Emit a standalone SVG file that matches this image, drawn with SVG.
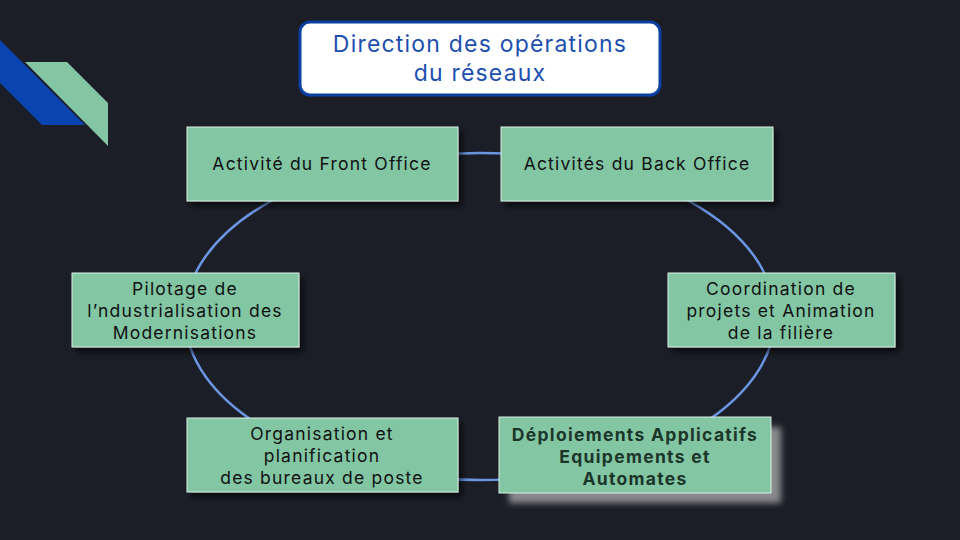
<svg xmlns="http://www.w3.org/2000/svg" width="960" height="540" viewBox="0 0 960 540">
<defs>
<style>
.node rect.box{fill:#82c6a4;stroke:#dcefe4;stroke-width:1}
.node text{font-family:Inter,"Noto Sans",sans-serif;font-size:17.5px;letter-spacing:1.2px;fill:#111;text-anchor:middle}
.node text.bold{font-weight:bold;fill:#1c3529;letter-spacing:1.3px}
.title text{font-family:Inter,"Noto Sans",sans-serif;font-size:23px;letter-spacing:1.2px;fill:#1c4fb0;text-anchor:middle}
</style>
<filter id="sh" x="-20%" y="-30%" width="140%" height="160%">
<feGaussianBlur in="SourceAlpha" stdDeviation="3"/>
<feOffset dx="4" dy="5" result="b"/>
<feComponentTransfer><feFuncA type="linear" slope="0.6"/></feComponentTransfer>
<feMerge><feMergeNode/><feMergeNode in="SourceGraphic"/></feMerge>
</filter>
<filter id="gblur" x="-20%" y="-30%" width="140%" height="160%">
<feGaussianBlur stdDeviation="3"/>
</filter>
</defs>
<rect width="960" height="540" fill="#1b1e27"/>
<g id="decor">
<polygon points="0,40 85,125 42,125 0,83" fill="#0a44b0"/>
<polygon points="25,62 67,62 108,103 108,146" fill="#84c6a4"/>
</g>
<g id="connectors">
<ellipse cx="480" cy="316.5" rx="295" ry="163.5" fill="none" stroke="#6a95e0" stroke-width="2.5"/>
</g>
<g id="title" class="title">
<rect x="300" y="22" width="360" height="73" rx="10" fill="#ffffff" stroke="#0a3fa0" stroke-width="3"/>
<text x="480" y="52">Direction des opérations</text>
<text x="480" y="81">du réseaux</text>
</g>
<g id="front" class="node">
<rect class="box" x="187" y="127" width="271" height="74" filter="url(#sh)"/>
<text x="322" y="170">Activité du Front Office</text>
</g>
<g id="back" class="node">
<rect class="box" x="501" y="127" width="272" height="74" filter="url(#sh)"/>
<text x="637" y="170">Activités du Back Office</text>
</g>
<g id="pilotage" class="node">
<rect class="box" x="72" y="273" width="227" height="74" filter="url(#sh)"/>
<text x="185" y="295">Pilotage de</text>
<text x="185" y="317">l’ndustrialisation des</text>
<text x="185" y="339">Modernisations</text>
</g>
<g id="coordination" class="node">
<rect class="box" x="668" y="273" width="227" height="74" filter="url(#sh)"/>
<text x="781" y="295">Coordination de</text>
<text x="781" y="317">projets et Animation</text>
<text x="781" y="339">de la filière</text>
</g>
<g id="organisation" class="node">
<rect class="box" x="187" y="418" width="271" height="74" filter="url(#sh)"/>
<text x="322" y="440">Organisation et</text>
<text x="322" y="462">planification</text>
<text x="322" y="484">des bureaux de poste</text>
</g>
<g id="deploiement" class="node">
<rect x="509" y="427" width="272" height="76" fill="#8a8a8e" filter="url(#gblur)"/>
<rect class="box" x="499" y="417" width="272" height="76"/>
<text class="bold" x="635" y="441">Déploiements Applicatifs</text>
<text class="bold" x="635" y="463">Equipements et</text>
<text class="bold" x="635" y="485">Automates</text>
</g>
</svg>
